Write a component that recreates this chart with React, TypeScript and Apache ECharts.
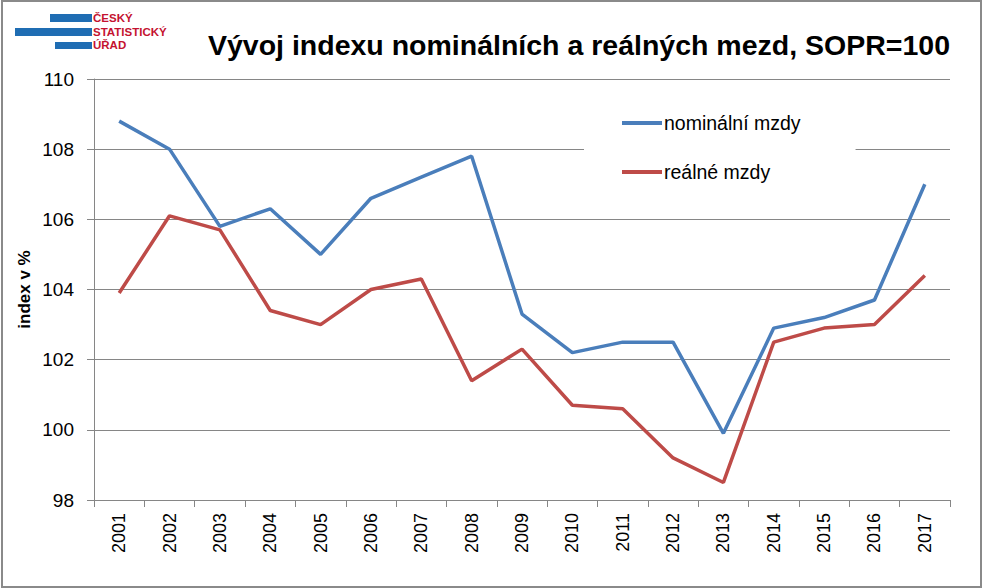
import React, { useEffect, useRef } from "react";
import * as echarts from "echarts";

const years = ["2001","2002","2003","2004","2005","2006","2007","2008","2009","2010","2011","2012","2013","2014","2015","2016","2017"];
const nominal = [108.8,108.0,105.8,106.3,105.0,106.6,107.2,107.8,103.3,102.2,102.5,102.5,99.9,102.9,103.2,103.7,107.0];
const real = [103.9,106.1,105.7,103.4,103.0,104.0,104.3,101.4,102.3,100.7,100.6,99.2,98.5,102.5,102.9,103.0,104.4];
const seriesNames = ["nominální mzdy", "reálné mzdy"];
const titleText = "Vývoj indexu nominálních a reálných mezd, SOPR=100";
const yAxisName = "index v %";
const logoLines = ["ČESKÝ", "STATISTICKÝ", "ÚŘAD"];

const FONT = "Liberation Sans";
const AXIS = "#868686";

export default function App() {
  const ref = useRef<HTMLDivElement>(null);
  useEffect(() => {
    if (!ref.current) return;
    const chart = echarts.init(ref.current, null, { renderer: "svg" });
    chart.setOption({
      animation: false,
      backgroundColor: "#ffffff",
      textStyle: { fontFamily: FONT },
      title: {
        text: titleText,
        right: 28,
        top: 25,
        textStyle: { fontFamily: FONT, fontSize: 28.5, fontWeight: "bold", color: "#000" },
      },
      legend: {
        orient: "vertical",
        left: 584,
        top: 103,
        padding: [10, 55, 10, 38],
        backgroundColor: "#ffffff",
        itemWidth: 40,
        itemHeight: 4,
        itemGap: 29,
        icon: "rect",
        textStyle: { fontFamily: FONT, fontSize: 19.5, color: "#000", lineHeight: 20, padding: [0, 0, 0, -3] },
        data: seriesNames,
      },
      grid: { left: 94, right: 33, top: 79, bottom: 88 },
      xAxis: {
        type: "category",
        data: years,
        boundaryGap: true,
        axisLine: { lineStyle: { color: AXIS, width: 1 } },
        axisTick: { show: true, length: 7, lineStyle: { color: AXIS } },
        axisLabel: { rotate: 90, fontFamily: FONT, fontSize: 18, color: "#000", margin: 13 },
      },
      yAxis: {
        type: "value",
        min: 98,
        max: 110,
        interval: 2,
        name: yAxisName,
        nameLocation: "middle",
        nameGap: 61,
        nameMoveOverlap: false,
        nameTextStyle: { fontFamily: FONT, fontSize: 17, fontWeight: "bold", color: "#000" },
        axisLine: { show: true, lineStyle: { color: AXIS, width: 1 } },
        axisTick: { show: true, length: 7, lineStyle: { color: AXIS } },
        axisLabel: { fontFamily: FONT, fontSize: 19, color: "#000", margin: 20 },
        splitLine: { show: true, lineStyle: { color: AXIS, width: 1 } },
      },
      series: [
        {
          name: seriesNames[0],
          type: "line",
          data: nominal,
          symbol: "none",
          lineStyle: { color: "#4a7ebb", width: 3.5 },
          itemStyle: { color: "#4a7ebb" },
          z: 2,
        },
        {
          name: seriesNames[1],
          type: "line",
          data: real,
          symbol: "none",
          lineStyle: { color: "#be4b48", width: 3.5 },
          itemStyle: { color: "#be4b48" },
          z: 3,
        },
      ],
      graphic: [
        { type: "rect", shape: { x: 2, y: 1, width: 979, height: 586 }, style: { fill: "none", stroke: "#8a8a8a", lineWidth: 2 }, silent: true },
        { type: "rect", shape: { x: 50, y: 14, width: 42, height: 8 }, style: { fill: "#1f6db3" } },
        { type: "rect", shape: { x: 15, y: 28, width: 77, height: 8 }, style: { fill: "#1f6db3" } },
        { type: "rect", shape: { x: 55, y: 42, width: 37, height: 7 }, style: { fill: "#1f6db3" } },
        ...logoLines.map((t, i) => ({
          type: "text",
          x: 93,
          y: 18 + i * 13.5,
          style: { text: t, fill: "#c4122f", font: `bold 11.5px ${FONT}`, textVerticalAlign: "middle", textAlign: "left" },
        })),
      ],
    });
    return () => chart.dispose();
  }, []);
  return <div ref={ref} style={{ position: "fixed", left: 0, top: 0, width: 983, height: 588 }} />;
}
